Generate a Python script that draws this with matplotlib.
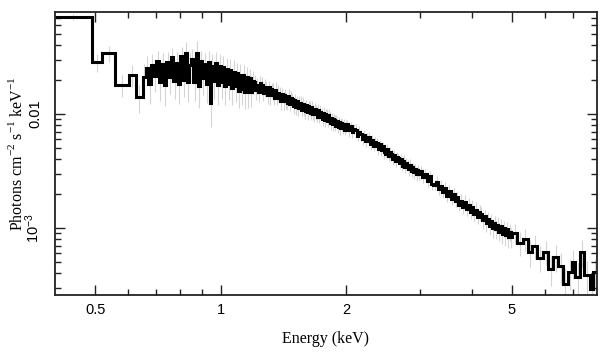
import matplotlib
matplotlib.use('Agg')
import matplotlib.pyplot as plt
import numpy as np

plt.rcParams['mathtext.fontset'] = 'custom'
plt.rcParams['mathtext.rm'] = 'Liberation Serif'
plt.rcParams['mathtext.sf'] = 'Liberation Sans'

# bin edges (keV): a few wide bins at low energy, then grouped channels
edges_lo = [0.40, 0.49, 0.52, 0.556, 0.601, 0.625, 0.65]
grid_soft = np.round(np.arange(0.65, 1.2001, 0.01), 3)
grid_mid = np.round(np.arange(1.20, 2.0001, 0.01), 3)
grid_h1 = np.round(np.arange(2.00, 3.0001, 0.02), 3)
grid_h2 = np.round(np.arange(3.00, 5.0001, 0.04), 3)
edges_top = [5.0, 5.15, 5.3, 5.45, 5.6, 5.75, 5.94, 6.1, 6.28, 6.45, 6.63, 6.8, 6.95, 7.1, 7.3, 7.45, 7.7, 7.84, 8.0]

# flux in units of 1e-3 photons cm^-2 s^-1 keV^-1
flux_lo = [71, 28.6, 34.3, 17.9, 22.0, 14.1]
flux_soft = [21.0, 25.5, 18.5, 27.0, 21.5, 29.0, 19.0, 27.5, 18.0, 28.5,
             21.0, 31.5, 19.5, 28.0, 18.5, 32.0, 20.0, 34.0, 19.0, 27.0,
             30.5, 19.0, 34.5, 17.5, 29.0, 20.5, 27.5, 18.5, 28.5, 12.5,
             26.5, 19.5, 28.0, 18.0, 26.5, 19.0, 26.0, 17.5, 25.0, 18.5,
             24.5, 17.0, 23.5, 17.5, 23.0, 16.0, 22.0, 16.5, 22.0, 15.5,
             21.0, 15.5, 20.5, 15.5, 19.5]
flux_mid = [19.2, 16.1, 18.0, 15.6, 18.6, 17.9, 15.2, 17.3, 16.9, 14.8,
            17.2, 14.6, 16.4, 15.9, 13.9, 16.3, 13.8, 15.4, 15.1, 13.0,
            14.9, 12.9, 14.6, 13.1, 12.4, 14.3, 12.2, 13.8, 13.5, 11.8,
            13.3, 11.6, 12.9, 11.2, 12.6, 12.4, 10.9, 12.3, 11.0, 10.6,
            11.9, 10.4, 11.7, 11.3, 10.1, 11.5, 10.0, 9.9, 11.1, 10.6,
            9.5, 10.8, 9.4, 10.5, 10.2, 9.1, 10.3, 8.9, 9.9, 9.7,
            8.6, 9.7, 9.3, 8.3, 9.2, 8.1, 9.0, 8.8, 7.9, 8.7,
            8.6, 7.7, 8.5, 7.5, 8.3, 8.1, 7.4, 8.2, 7.3, 7.9]
flux_h1 = [8.1, 7.2, 7.8, 6.9, 7.4, 7.3, 6.4, 7.0, 6.7, 6.0,
           6.6, 5.8, 6.2, 6.3, 5.4, 5.9, 5.2, 5.7, 5.6, 4.9,
           5.4, 4.8, 5.2, 4.6, 4.5, 4.9, 4.3, 4.6, 4.5, 4.0,
           4.4, 3.9, 4.2, 4.1, 3.7, 4.0, 3.5, 3.9, 3.4, 3.7,
           3.6, 3.3, 3.6, 3.15, 3.4, 3.1, 3.3, 2.95, 3.2, 3.0]
flux_h2 = [3.15, 2.8, 3.0, 2.6, 2.85, 2.45, 2.4, 2.55, 2.2, 2.35,
           2.05, 2.25, 1.9, 2.1, 1.8, 1.98, 1.72, 1.85, 1.6, 1.74,
           1.52, 1.69, 1.47, 1.6, 1.38, 1.53, 1.33, 1.45, 1.25, 1.37,
           1.33, 1.17, 1.27, 1.1, 1.21, 1.05, 1.16, 0.99, 1.1, 0.97,
           1.07, 0.93, 1.04, 0.89, 0.99, 0.86, 0.97, 0.83, 0.93, 0.84]
flux_top = [0.90, 0.74, 0.80, 0.62, 0.70, 0.55, 0.62, 0.44, 0.56, 0.46,
            0.32, 0.41, 0.50, 0.37, 0.62, 0.39, 0.29, 0.41]

# relative errors (percent)
err_lo = [6, 18, 16, 22, 22, 28]
err_soft = [30, 26, 34, 24, 28, 22, 32, 25, 35, 24, 29, 21, 31, 26, 34, 22, 30, 25, 33, 27,
            23, 31, 26, 36, 24, 29, 25, 32, 25, 38, 26, 30, 24, 33, 27, 29, 24, 31, 25, 28,
            24, 30, 26, 27, 23, 29, 24, 27, 22, 28, 23, 27, 22, 26, 23]
err_mid = [15, 18, 14, 19, 15, 17, 14, 18, 15, 17, 14, 18, 15, 17, 14, 17, 13, 16, 14, 17,
           13, 16, 14, 16, 13, 16, 13, 15, 14, 16, 13, 15, 12, 15, 13, 15, 12, 14, 13, 15,
           12, 14, 12, 15, 12, 14, 11, 14, 12, 14, 11, 13, 12, 14, 11, 13, 11, 13, 12, 13,
           11, 13, 11, 12, 11, 13, 10, 12, 11, 12, 10, 12, 11, 12, 10, 12, 10, 11, 10, 12]
err_h1 = [10, 12, 10, 11, 10, 12, 10, 11, 9, 11, 10, 11, 9, 11, 10, 11, 9, 11, 10, 11,
          9, 11, 10, 12, 9, 11, 10, 12, 10, 11, 10, 12, 10, 12, 10, 12, 10, 12, 11, 12,
          10, 13, 11, 12, 10, 13, 11, 12, 11, 13]
err_h2 = [10, 12, 10, 12, 11, 13, 10, 12, 11, 13, 11, 13, 11, 13, 12, 14, 12, 14, 12, 14,
          12, 15, 13, 15, 13, 15, 13, 16, 14, 16, 14, 16, 14, 17, 15, 17, 15, 17, 15, 18,
          16, 18, 16, 19, 16, 19, 17, 20, 17, 20]
err_top = [20, 24, 22, 26, 24, 26, 24, 30, 26, 30, 38, 30, 28, 34, 26, 32, 40, 30]

edges = np.concatenate([edges_lo, grid_soft[1:], grid_mid[1:], grid_h1[1:], grid_h2[1:], edges_top[1:]])
flux = np.array(flux_lo + flux_soft + flux_mid + flux_h1 + flux_h2 + flux_top) * 1e-3
err = np.array(err_lo + err_soft + err_mid + err_h1 + err_h2 + err_top) / 100.0
centers = np.sqrt(edges[:-1] * edges[1:])

fig = plt.figure(figsize=(6.08, 3.57), dpi=100)
ax = fig.add_axes([55/608, 1 - 295/357, (597-55)/608, (295-12)/357])

ax.vlines(centers, flux * (1 - err), flux * (1 + err), color='#d4d4d4', lw=0.8, zorder=1)
ax.stairs(flux, edges, baseline=None, color='black', lw=2.2, zorder=2)

ax.set_xscale('log')
ax.set_yscale('log')
ax.set_xlim(0.4, 8.0)
ax.set_ylim(2.58e-4, 0.0785)

ax.set_xticks([0.5, 1, 2, 5])
ax.set_xticklabels(['0.5', '1', '2', '5'])
ax.set_xticks([0.6, 0.7, 0.8, 0.9, 3, 4, 6, 7], minor=True)
ax.set_xticklabels([], minor=True)
ax.set_yticks([1e-3, 1e-2])
ax.set_yticklabels([r'$\mathsf{10^{-3}}$', '0.01'])
ax.set_yticks([3e-4, 4e-4, 5e-4, 6e-4, 7e-4, 8e-4, 9e-4,
               2e-3, 3e-3, 4e-3, 5e-3, 6e-3, 7e-3, 8e-3, 9e-3,
               2e-2, 3e-2, 4e-2, 5e-2, 6e-2, 7e-2], minor=True)
ax.set_yticklabels([], minor=True)

ax.tick_params(which='both', direction='in', top=True, right=True, width=1.0, colors='#222222')
ax.tick_params(which='major', length=7)
ax.tick_params(which='minor', length=4)
ax.tick_params(axis='x', pad=6, labelsize=10.5)
ax.tick_params(axis='y', pad=9, labelsize=10.5)
for lab in ax.get_xticklabels() + ax.get_yticklabels():
    lab.set_family('Liberation Sans')
    lab.set_color('black')
plt.setp(ax.get_yticklabels(), rotation=90, va='center', ha='right')

for sp in ax.spines.values():
    sp.set_linewidth(1.3)
    sp.set_color('#222222')

ax.set_xlabel('Energy (keV)', family='Liberation Serif', fontsize=11.5, labelpad=10)
ax.set_ylabel(r'Photons cm$^{-2}$ s$^{-1}$ keV$^{-1}$', family='Liberation Serif', fontsize=11.5, va='center')
ax.yaxis.set_label_coords(-0.070, 0.5)

fig.savefig('out.png', dpi=100)
